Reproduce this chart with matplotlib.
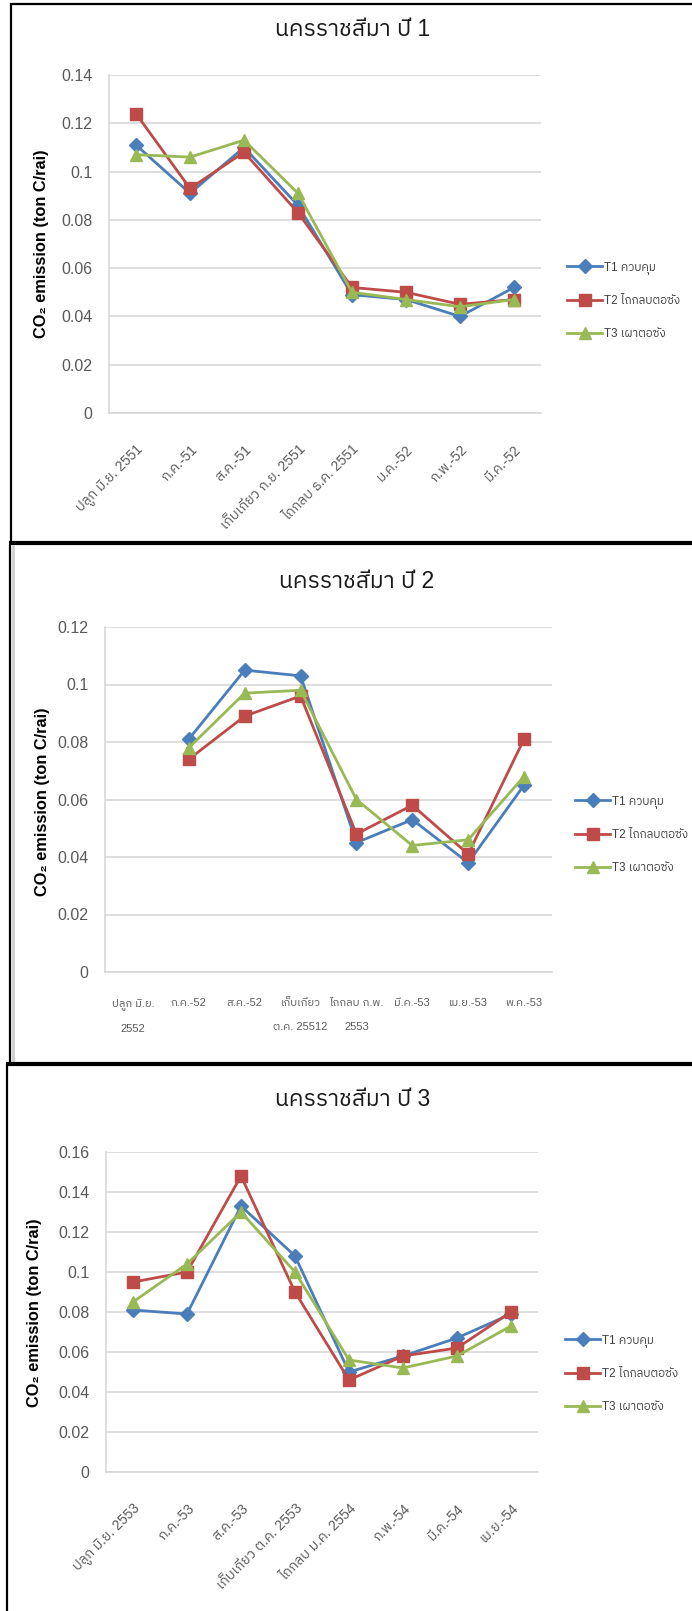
import numpy as np
import matplotlib
matplotlib.use('Agg')
import matplotlib.pyplot as plt
from matplotlib import font_manager
from matplotlib.lines import Line2D
from fontTools.ttLib import TTFont

# three seasons of CO2 emission, Nakhon Ratchasima
series_names = ['T1 ควบคุม', 'T2 ไถกลบตอซัง', 'T3 เผาตอซัง']

labels_y1 = ['ปลูก มิ.ย. 2551', 'ก.ค.-51', 'ส.ค.-51', 'เก็บเกี่ยว ก.ย. 2551',
             'ไถกลบ ธ.ค. 2551', 'ม.ค.-52', 'ก.พ.-52', 'มี.ค.-52']
t1_y1 = [0.111, 0.091, 0.110, 0.086, 0.049, 0.047, 0.040, 0.052]
t2_y1 = [0.124, 0.093, 0.108, 0.083, 0.052, 0.050, 0.045, 0.047]
t3_y1 = [0.107, 0.106, 0.113, 0.091, 0.050, 0.047, 0.044, 0.047]

labels_y2 = ['ปลูก มิ.ย.\n2552', 'ก.ค.-52', 'ส.ค.-52', 'เก็บเกี่ยว\nต.ค. 25512',
             'ไถกลบ ก.พ.\n2553', 'มี.ค.-53', 'เม.ย.-53', 'พ.ค.-53']
t1_y2 = [np.nan, 0.081, 0.105, 0.103, 0.045, 0.053, 0.038, 0.065]
t2_y2 = [np.nan, 0.074, 0.089, 0.096, 0.048, 0.058, 0.041, 0.081]
t3_y2 = [np.nan, 0.078, 0.097, 0.098, 0.060, 0.044, 0.046, 0.068]

labels_y3 = ['ปลูก มิ.ย. 2553', 'ก.ค.-53', 'ส.ค.-53', 'เก็บเกี่ยว ต.ค. 2553',
             'ไถกลบ ม.ค. 2554', 'ก.พ.-54', 'มี.ค.-54', 'เม.ย.-54']
t1_y3 = [0.081, 0.079, 0.133, 0.108, 0.050, 0.058, 0.067, 0.079]
t2_y3 = [0.095, 0.100, 0.148, 0.090, 0.046, 0.058, 0.062, 0.080]
t3_y3 = [0.085, 0.104, 0.130, 0.100, 0.056, 0.052, 0.058, 0.073]


def thai_fonts():
    # families that actually carry Thai glyphs
    found = []
    for f in font_manager.fontManager.ttflist:
        try:
            cmap = TTFont(f.fname, fontNumber=0, lazy=True).getBestCmap() or {}
        except Exception:
            continue
        if 0x0E01 in cmap and f.name not in found:
            found.append(f.name)
    found.sort(key=lambda n: ('Sans' not in n, n))
    return found


FAMILY = ['Liberation Sans'] + thai_fonts() + ['DejaVu Sans']
plt.rcParams['font.family'] = FAMILY

W, H = 692, 1611
fig = plt.figure(figsize=(W / 100, H / 100), dpi=100)

colors = ['#4a7ebb', '#be4b48', '#98b954']
markers = ['D', 's', '^']
msizes = [7, 8.5, 9]
GRID = '#d4d4d4'
TXT = '#595959'


def fx(x):
    return x / W


def fy(y):
    return 1 - y / H


def border(x0, y0, x1, y1, lw, color='black'):
    fig.add_artist(Line2D([fx(x0), fx(x1)], [fy(y0), fy(y1)],
                          transform=fig.transFigure, color=color, lw=lw,
                          solid_capstyle='butt'))


def panel(box, title, title_xy, ylab_xy, labels, t1, t2, t3, ymax,
          legend_xy, rotate):
    x0, y0, x1, y1 = box
    ax = fig.add_axes([fx(x0), fy(y1), (x1 - x0) / W, (y1 - y0) / H])
    x = np.arange(len(labels))
    for vals, c, m, ms, name in zip([t1, t2, t3], colors, markers, msizes,
                                    series_names):
        ax.plot(x, vals, color=c, lw=2.0, marker=m, ms=ms, mec=c, mfc=c,
                label=name)
    ax.set_xlim(-0.5, len(labels) - 0.5)
    ax.set_ylim(0, ymax)
    ticks = np.arange(0, ymax + 1e-9, 0.02)
    ax.set_yticks(ticks)
    ax.set_yticklabels([f'{t:g}' for t in ticks], fontsize=11.5, color=TXT)
    ax.yaxis.grid(True, color=GRID, lw=1.1)
    ax.set_axisbelow(True)
    for s in ['top', 'right']:
        ax.spines[s].set_visible(False)
    for s in ['left', 'bottom']:
        ax.spines[s].set_color(GRID)
        ax.spines[s].set_linewidth(1.1)
    ax.tick_params(length=0)
    ax.tick_params(axis='y', pad=12)
    ax.set_xticks(x)
    if rotate:
        ax.set_xticklabels(labels, rotation=45, ha='right',
                           rotation_mode='anchor', fontsize=10, color=TXT)
        ax.tick_params(axis='x', pad=21)
    else:
        ax.set_xticklabels(labels, fontsize=8, color=TXT, linespacing=2.7)
        ax.tick_params(axis='x', pad=19)

    fig.text(fx(title_xy[0]), fy(title_xy[1]), title, ha='center',
             va='center', fontsize=16.5, color='#1a1a1a')
    fig.text(fx(ylab_xy[0]), fy(ylab_xy[1]), 'CO₂ emission (ton C/rai)',
             rotation=90, ha='center', va='center', fontsize=11.8,
             fontweight='bold', color='black')
    ax.legend(loc='center left', bbox_to_anchor=(fx(legend_xy[0]), fy(legend_xy[1])),
              bbox_transform=fig.transFigure, frameon=False, fontsize=8.4,
              handlelength=3.0, handletextpad=0.15, labelspacing=1.8,
              borderpad=0, borderaxespad=0, labelcolor='#404040')
    return ax


panel((109, 75, 541, 413), 'นครราชสีมา ปี 1', (353, 30), (42, 244),
      labels_y1, t1_y1, t2_y1, t3_y1, 0.14, (567, 301), True)
panel((105, 627, 552, 972), 'นครราชสีมา ปี 2', (357, 582), (43, 802),
      labels_y2, t1_y2, t2_y2, t3_y2, 0.12, (575, 835), False)
panel((106, 1152, 538, 1472), 'นครราชสีมา ปี 3', (353, 1099), (35, 1313),
      labels_y3, t1_y3, t2_y3, t3_y3, 0.16, (565, 1374), True)

# frames around the three chart panels
border(10, 4, 692, 4, 1.6)
border(11, 3, 11, 545, 1.6)
border(9, 543, 692, 543, 3.0)
border(13, 545, 13, 1063, 2.0, '#cfcfcf')
border(10, 545, 10, 1064, 1.6)
border(6, 1064, 692, 1064, 3.0)
border(7, 1064, 7, 1611, 1.6)

fig.savefig('out.png', dpi=100)
